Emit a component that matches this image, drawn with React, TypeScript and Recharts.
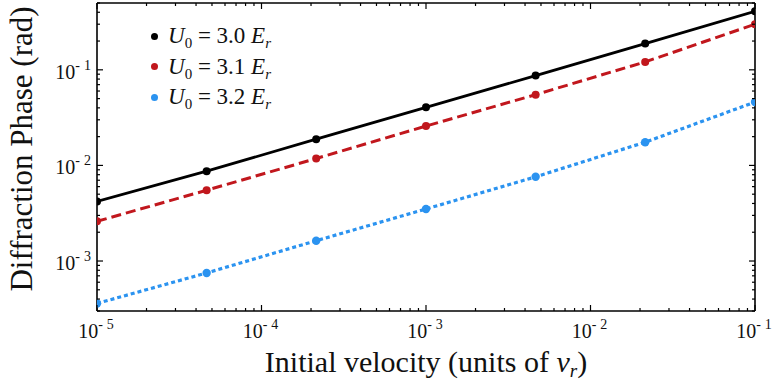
import { LineChart, Line, XAxis, YAxis, Label } from "recharts";

// initial velocity (units of v_r), log spaced
const velocities = [1e-5, 4.64e-5, 2.15e-4, 1e-3, 4.64e-3, 2.15e-2, 1e-1];
// diffraction phase (rad) per lattice depth
const phaseU30 = [0.0042, 0.0087, 0.0188, 0.0405, 0.087, 0.188, 0.41];
const phaseU31 = [0.0026, 0.0055, 0.0118, 0.0258, 0.055, 0.121, 0.3];
const phaseU32 = [0.00036, 0.00075, 0.00163, 0.0035, 0.0076, 0.0175, 0.046];

const seriesLabels = ["3.0", "3.1", "3.2"];
const seriesColors = ["#000000", "#c1171d", "#2b93f0"];

const xMajor = [1e-5, 1e-4, 1e-3, 1e-2, 1e-1];
const xMinor = [1e-5, 1e-4, 1e-3, 1e-2].flatMap((d) => [2, 3, 4, 5, 6, 7, 8, 9].map((m) => m * d));
const yMajor = [1e-3, 1e-2, 1e-1];
const yMinor = [
  ...[3, 4, 5, 6, 7, 8, 9].map((m) => m * 1e-4),
  ...[2, 3, 4, 5, 6, 7, 8, 9].map((m) => m * 1e-3),
  ...[2, 3, 4, 5, 6, 7, 8, 9].map((m) => m * 1e-2),
  ...[2, 3, 4, 5].map((m) => m * 1e-1),
];

const rows = velocities.map((x, i) => ({
  x,
  u30: phaseU30[i],
  u31: phaseU31[i],
  u32: phaseU32[i],
}));

const FONT = "'Liberation Serif', 'Times New Roman', serif";

const isMajor = (v: number) => Math.abs(Math.log10(v) - Math.round(Math.log10(v))) < 1e-6;

const PowerLabel = ({ x, y, anchor, exp }: { x: number; y: number; anchor: "middle" | "end"; exp: number }) => (
  <text x={x} y={y} textAnchor={anchor} fontFamily={FONT} fontSize={20} fill="#111">
    10
    <tspan dy={-9} fontSize={14}>
      -
    </tspan>
    <tspan dx={4} fontSize={14}>
      {Math.abs(exp)}
    </tspan>
  </text>
);

// tick marks drawn inward, labels only on the bottom/left axes
const makeTick = (side: "bottom" | "top" | "left" | "right") => (props: any) => {
  const { x, y, payload } = props;
  const v = payload.value;
  const major = isMajor(v);
  const len = major ? 6 : 3;
  let line;
  if (side === "bottom") line = <line x1={x} y1={y} x2={x} y2={y - len} stroke="#000" strokeWidth={1.2} />;
  else if (side === "top") line = <line x1={x} y1={y} x2={x} y2={y + len} stroke="#000" strokeWidth={1.2} />;
  else if (side === "left") line = <line x1={x} y1={y} x2={x + len} y2={y} stroke="#000" strokeWidth={1.2} />;
  else line = <line x1={x} y1={y} x2={x - len} y2={y} stroke="#000" strokeWidth={1.2} />;
  const exp = Math.round(Math.log10(v));
  let label = null;
  if (major && side === "bottom") label = <PowerLabel x={x - 1} y={y + 27} anchor="middle" exp={exp} />;
  if (major && side === "left") label = <PowerLabel x={x - 6} y={y + 9} anchor="end" exp={exp} />;
  return (
    <g>
      {line}
      {label}
    </g>
  );
};

const renderXLabel = (props: any) => {
  const { x, y, width } = props.viewBox;
  return (
    <text x={x + width / 2} y={y + 61} textAnchor="middle" fontFamily={FONT} fontSize={30} fill="#111">
      Initial velocity (units of <tspan fontStyle="italic">v</tspan>
      <tspan fontStyle="italic" fontSize={19} dy={5}>
        r
      </tspan>
      <tspan dy={-5}>)</tspan>
    </text>
  );
};

const renderYLabel = (props: any) => {
  const { y, height } = props.viewBox;
  return (
    <text
      transform={`translate(32, ${y + height / 2 - 8}) rotate(-90)`}
      textAnchor="middle"
      fontFamily={FONT}
      fontSize={31}
      fill="#111"
    >
      Diffraction Phase (rad)
    </text>
  );
};

const subStyle = { fontSize: 15, verticalAlign: "-5px", lineHeight: 0 };

const LegendBox = () => (
  <div
    style={{
      position: "absolute",
      left: 151,
      top: 21,
      fontFamily: FONT,
      fontSize: 23,
      color: "#111",
    }}
  >
    {seriesLabels.map((lab, i) => (
      <div key={lab} style={{ height: 30.5, whiteSpace: "nowrap", display: "flex", alignItems: "center" }}>
        <span
          style={{
            display: "inline-block",
            width: 7,
            height: 7,
            borderRadius: "50%",
            background: seriesColors[i],
            marginRight: 10,
          }}
        ></span>
        <span style={{ lineHeight: "30px" }}>
          <i>U</i>
          <sub style={subStyle}>0</sub>
          {" = "}
          {lab}{" "}
          <i>E</i>
          <sub style={subStyle}>
            <i>r</i>
          </sub>
        </span>
      </div>
    ))}
  </div>
);

const axisLine = { stroke: "#000", strokeWidth: 1.6 };

export default function App() {
  const allX = [...xMajor, ...xMinor];
  const allY = [...yMinor, ...yMajor];
  return (
    <div style={{ position: "absolute", left: 0, top: 0, width: 774, height: 383, background: "#fff" }}>
      <LineChart width={774} height={383} data={rows} margin={{ top: 2, right: 18, bottom: 71, left: 96 }}>
        <XAxis
          dataKey="x"
          type="number"
          scale="log"
          domain={[1e-5, 1e-1]}
          allowDataOverflow
          ticks={allX}
          interval={0}
          height={1}
          tickSize={0}
          tickMargin={0}
          tickLine={false}
          tick={makeTick("bottom")}
          axisLine={axisLine}
        >
          <Label content={renderXLabel} />
        </XAxis>
        <XAxis
          xAxisId="top"
          orientation="top"
          dataKey="x"
          type="number"
          scale="log"
          domain={[1e-5, 1e-1]}
          allowDataOverflow
          ticks={allX}
          interval={0}
          height={1}
          tickSize={0}
          tickMargin={0}
          tickLine={false}
          tick={makeTick("top")}
          axisLine={axisLine}
        />
        <YAxis
          type="number"
          scale="log"
          domain={[3e-4, 0.5]}
          allowDataOverflow
          ticks={allY}
          interval={0}
          width={1}
          tickSize={0}
          tickMargin={0}
          tickLine={false}
          tick={makeTick("left")}
          axisLine={axisLine}
        >
          <Label content={renderYLabel} />
        </YAxis>
        <YAxis
          yAxisId="right"
          orientation="right"
          type="number"
          scale="log"
          domain={[3e-4, 0.5]}
          allowDataOverflow
          ticks={allY}
          interval={0}
          width={1}
          tickSize={0}
          tickMargin={0}
          tickLine={false}
          tick={makeTick("right")}
          axisLine={axisLine}
        />
        <Line
          xAxisId="top"
          yAxisId="right"
          dataKey="u30"
          stroke="none"
          dot={false}
          legendType="none"
          isAnimationActive={false}
        />
        <Line
          dataKey="u32"
          stroke={seriesColors[2]}
          strokeWidth={3.2}
          strokeDasharray="4 3"
          dot={{ r: 4.2, fill: seriesColors[2], stroke: "none" }}
          isAnimationActive={false}
        />
        <Line
          dataKey="u31"
          stroke={seriesColors[1]}
          strokeWidth={3}
          strokeDasharray="10 5"
          dot={{ r: 4, fill: seriesColors[1], stroke: "none" }}
          isAnimationActive={false}
        />
        <Line
          dataKey="u30"
          stroke={seriesColors[0]}
          strokeWidth={2.8}
          dot={{ r: 4, fill: seriesColors[0], stroke: "none" }}
          isAnimationActive={false}
        />
      </LineChart>
      <LegendBox />
    </div>
  );
}
